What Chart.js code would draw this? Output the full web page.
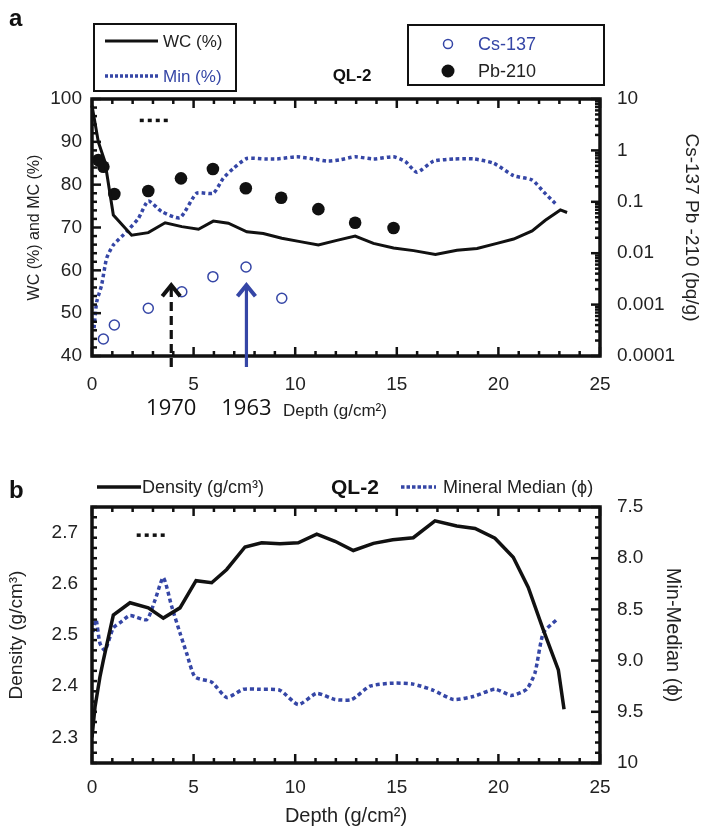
<!DOCTYPE html>
<html><head><meta charset="utf-8">
<script src="https://cdn.jsdelivr.net/npm/chart.js@4.4.1/dist/chart.umd.min.js"></script>
<style>
html,body{margin:0;padding:0;background:#fff;}
#wrap{position:relative;width:703px;height:836px;overflow:hidden;background:#fff;}
#c1{position:absolute;left:0;top:0;display:block;}
#c2{position:absolute;left:0;top:450px;display:block;}
</style></head><body>
<div id="wrap"><canvas id="c1" width="703" height="450"></canvas><canvas id="c2" width="703" height="386"></canvas></div>
<script>
// ---------- Panel a data ----------
const wcDepth  = [0,0.31,0.64,1.05,1.95,2.77,3.6,4.42,5.24,5.97,6.71,7.62,8.43,9.34,10.24,11.14,12.05,12.95,13.85,14.84,15.83,16.9,17.96,18.95,19.93,20.75,21.66,22.31,23.05,23.38];
const wcValues = [98.5,90,85.3,72.9,68.2,68.8,71.1,70.2,69.6,71.5,71,69,68.6,67.5,66.7,65.9,67,68,66.3,65.2,64.6,63.7,64.7,65.1,66.3,67.3,69.2,71.7,74.1,73.5];
const minDepth  = [0.1,0.23,0.47,0.72,1.05,1.7,2.28,2.77,3.43,4.33,5.15,5.97,6.46,6.96,7.62,8.5,9.1,10.08,10.9,11.63,12.2,12.95,13.85,14.84,15.42,15.99,16.81,17.8,18.8,19.77,20.75,21.66,22.23,22.8];
const minValues = [46.5,52.6,56.5,62.8,65.9,69,72.1,76.2,73.7,72.3,78,78,81.5,83.8,86.1,86,86,86.5,86,85.5,85.8,86.5,86,86.5,85.4,82.9,85.5,86,86,85,82.1,81.1,78.3,75.6];
const csDepth  = [0.56,1.1,2.77,4.42,5.95,7.58,9.34];
const csValues = [0.000214,0.0004,0.00085,0.00178,0.0035,0.0054,0.00133];
const pbDepth  = [0.31,0.56,1.1,2.77,4.38,5.95,7.57,9.31,11.14,12.95,14.84];
const pbValues = [0.65,0.48,0.142,0.162,0.286,0.435,0.183,0.12,0.072,0.039,0.031];
const leftTicksA  = [40,50,60,70,80,90,100];
const logTickValues = [0.0001,0.001,0.01,0.1,1,10];
const logTickLabels = ['0.0001','0.001','0.01','0.1','1','10'];
const xTickValues = [0,5,10,15,20,25];
const arrowDepths = [3.9, 7.6];        // 1970, 1963 markers
const arrowLabels = ['1970','1963'];
const arrowTipValue = 57;
const dotsADepth = [2.35,3.85]; const dotsAValue = [95,95];

// ---------- Panel b data ----------
const denDepth  = [0,0.15,0.39,0.56,1.05,1.87,2.77,3.51,4.33,5.12,5.89,6.63,7.53,8.35,9.25,10.15,11.06,11.96,12.86,13.85,14.8,15.81,16.88,17.95,18.85,19.83,20.73,21.47,22.21,22.95,23.23];
const denValues = [2.30,2.36,2.418,2.451,2.539,2.563,2.553,2.533,2.553,2.606,2.602,2.628,2.672,2.68,2.678,2.68,2.697,2.683,2.665,2.679,2.686,2.69,2.723,2.713,2.708,2.689,2.652,2.593,2.51,2.432,2.355];
const phiDepth  = [0.05,0.2,0.39,0.64,1.05,1.38,1.87,2.69,3.1,3.51,3.92,4.33,4.66,5.07,5.89,6.63,7.45,8.27,9.25,10.15,11.06,11.96,12.78,13.68,14.83,15.81,16.8,17.78,18.77,19.83,20.65,21.39,21.8,22.21,22.87];
const phiValues = [8.72,8.6,8.83,8.9,8.68,8.63,8.56,8.6,8.41,8.19,8.47,8.73,8.93,9.16,9.21,9.36,9.28,9.28,9.29,9.43,9.32,9.38,9.38,9.25,9.22,9.23,9.29,9.38,9.35,9.28,9.34,9.28,9.12,8.73,8.6];
const leftTicksB  = [2.3,2.4,2.5,2.6,2.7];
const leftLabelsB = ['2.3','2.4','2.5','2.6','2.7'];
const rightTicksB = [7.5,8.0,8.5,9.0,9.5,10];
const rightLabelsB = ['7.5','8.0','8.5','9.0','9.5','10'];
const dotsBDepth = [2.2,3.75]; const dotsBValue = [2.695,2.695];

const BLUE = '#3546a6';
const FONT = "'Liberation Sans', Arial, Helvetica, sans-serif";
Chart.defaults.font.family = FONT;
Chart.defaults.color = '#222';

const pts = (xs, ys) => xs.map((x, i) => ({x, y: ys[i]}));

function line(ctx, x1, y1, x2, y2) { ctx.beginPath(); ctx.moveTo(x1, y1); ctx.lineTo(x2, y2); ctx.stroke(); }

function drawFrameTicks(chart, leftMinor, leftMajorTest, rightMinorVals, rightMajorTest, rightScaleId) {
  const ctx = chart.ctx; const a = chart.chartArea;
  const xs = chart.scales.x, yl = chart.scales.y, yr = chart.scales[rightScaleId];
  ctx.save();
  ctx.strokeStyle = '#111'; ctx.lineWidth = 2.5; ctx.setLineDash([]);
  for (let v = 0; v <= 25; v++) {
    const px = xs.getPixelForValue(v); const len = v % 5 === 0 ? 9 : 5;
    line(ctx, px, a.bottom, px, a.bottom - len);
    line(ctx, px, a.top, px, a.top + len);
  }
  leftMinor.forEach(v => {
    const py = yl.getPixelForValue(v); const len = leftMajorTest(v) ? 9 : 5;
    line(ctx, a.left, py, a.left + len, py);
  });
  rightMinorVals.forEach(v => {
    const py = yr.getPixelForValue(v); const len = rightMajorTest(v) ? 9 : 5;
    line(ctx, a.right, py, a.right - len, py);
  });
  ctx.lineWidth = 3.5;
  ctx.strokeRect(a.left, a.top, a.right - a.left, a.bottom - a.top);
  ctx.restore();
}

function setTicks(values) { return (scale) => { scale.ticks = values.map(v => ({value: v})); }; }
const noGrid = { display: false, drawTicks: false };

// ---------------- Chart a ----------------
const leftMinorA = []; for (let v = 40; v <= 100; v += 2) leftMinorA.push(v);
const logMinor = []; for (let e = -4; e <= 0; e++) for (let k = 1; k <= 9; k++) logMinor.push(k * Math.pow(10, e)); logMinor.push(10);

const overlayA = {
  id: 'overlayA',
  afterDraw(chart) {
    drawFrameTicks(chart, leftMinorA, v => v % 10 === 0, logMinor,
      v => Math.abs(Math.log10(v) - Math.round(Math.log10(v))) < 1e-6, 'y2');
    const ctx = chart.ctx; const a = chart.chartArea;
    const xs = chart.scales.x, ys = chart.scales.y;
    ctx.save();
    // legend box 1
    ctx.strokeStyle = '#111'; ctx.lineWidth = 2;
    ctx.strokeRect(94, 24, 142, 67);
    ctx.lineWidth = 3; line(ctx, 105, 41, 158, 41);
    ctx.strokeStyle = BLUE; ctx.lineWidth = 3.5; ctx.setLineDash([3, 2]); line(ctx, 105, 76, 158, 76); ctx.setLineDash([]);
    ctx.font = '17px ' + FONT; ctx.textBaseline = 'middle'; ctx.textAlign = 'left';
    ctx.fillStyle = '#222'; ctx.fillText('WC (%)', 163, 42);
    ctx.fillStyle = BLUE; ctx.fillText('Min (%)', 163, 77);
    // legend box 2
    ctx.strokeStyle = '#111'; ctx.lineWidth = 2;
    ctx.strokeRect(408, 25, 196, 60);
    ctx.strokeStyle = BLUE; ctx.lineWidth = 1.5; ctx.fillStyle = '#fff';
    ctx.beginPath(); ctx.arc(448, 44, 4.5, 0, Math.PI * 2); ctx.fill(); ctx.stroke();
    ctx.fillStyle = '#111'; ctx.beginPath(); ctx.arc(448, 71, 6.5, 0, Math.PI * 2); ctx.fill();
    ctx.font = '18px ' + FONT;
    ctx.fillStyle = BLUE; ctx.fillText('Cs-137', 478, 45);
    ctx.fillStyle = '#222'; ctx.fillText('Pb-210', 478, 72);
    // title + panel letter
    ctx.font = 'bold 17px ' + FONT; ctx.textAlign = 'center'; ctx.fillStyle = '#111';
    ctx.fillText('QL-2', 352, 76);
    ctx.font = 'bold 24px ' + FONT; ctx.textAlign = 'left';
    ctx.fillText('a', 9, 19);
    // arrows
    const tip = ys.getPixelForValue(arrowTipValue);
    arrowDepths.forEach((d, i) => {
      const px = xs.getPixelForValue(d);
      const col = i === 0 ? '#111' : BLUE;
      ctx.strokeStyle = col; ctx.lineWidth = 3.2;
      ctx.setLineDash(i === 0 ? [9, 5] : []);
      line(ctx, px, a.bottom + 11, px, tip + 4);
      ctx.setLineDash([]); ctx.lineWidth = 4; ctx.lineJoin = 'miter';
      ctx.beginPath(); ctx.moveTo(px - 9, tip + 13); ctx.lineTo(px, tip + 2); ctx.lineTo(px + 9, tip + 13); ctx.stroke();
      ctx.fillStyle = '#111'; ctx.font = "22px 'Open Sans', 'DejaVu Sans', sans-serif"; ctx.textAlign = 'center';
      ctx.fillText(arrowLabels[i], px, 409);
    });
    ctx.font = '17px ' + FONT; ctx.textAlign = 'left'; ctx.fillStyle = '#222';
    ctx.fillText('Depth (g/cm²)', 283, 411);
    ctx.restore();
  }
};

new Chart(document.getElementById('c1'), {
  type: 'line',
  data: {
    datasets: [
      { label: 'WC (%)', data: pts(wcDepth, wcValues), yAxisID: 'y', borderColor: '#111', borderWidth: 3, pointRadius: 0, tension: 0, fill: false },
      { label: 'Min (%)', data: pts(minDepth, minValues), yAxisID: 'y', borderColor: BLUE, borderWidth: 3.5, borderDash: [3.5, 3], pointRadius: 0, tension: 0.2, fill: false },
      { label: 'Cs-137', data: pts(csDepth, csValues), yAxisID: 'y2', showLine: false, pointRadius: 5, borderColor: BLUE, backgroundColor: '#fff', pointBorderWidth: 1.5 },
      { label: 'Pb-210', data: pts(pbDepth, pbValues), yAxisID: 'y2', showLine: false, pointRadius: 6.3, borderColor: '#111', backgroundColor: '#111', pointBorderWidth: 0 },
      { label: 'dots', data: pts(dotsADepth, dotsAValue), yAxisID: 'y', borderColor: '#111', borderWidth: 3.5, borderDash: [4, 4], pointRadius: 0 }
    ]
  },
  options: {
    responsive: false, animation: false, clip: false,
    layout: { padding: { top: 99, left: 0, right: 0, bottom: 0 } },
    plugins: { legend: { display: false }, tooltip: { enabled: false }, title: { display: false } },
    scales: {
      x: { type: 'linear', min: 0, max: 25, afterBuildTicks: setTicks(xTickValues), afterFit: s => { s.height = 94; },
           grid: noGrid, border: { display: false },
           ticks: { font: { size: 19 }, padding: 17, color: '#222', maxRotation: 0 } },
      y: { type: 'linear', position: 'left', min: 40, max: 100, afterBuildTicks: setTicks(leftTicksA), afterFit: s => { s.width = 92; },
           grid: noGrid, border: { display: false },
           ticks: { font: { size: 19 }, padding: 10, color: '#222' },
           title: { display: true, text: 'WC (%) and MC (%)', font: { size: 16 }, padding: { top: 25 }, color: '#222' } },
      y2: { type: 'logarithmic', position: 'right', min: 0.0001, max: 10, afterBuildTicks: setTicks(logTickValues), afterFit: s => { s.width = 103; },
           grid: noGrid, border: { display: false },
           ticks: { font: { size: 19 }, padding: 17, color: '#222', callback: v => logTickLabels[logTickValues.indexOf(v)] },
           title: { display: true, text: 'Cs-137 Pb -210 (bq/g)', font: { size: 19 }, padding: { top: 0 }, color: '#222' } }
    }
  },
  plugins: [overlayA]
});

// ---------------- Chart b ----------------
const leftMinorB = []; for (let i = 0; i <= 25; i++) leftMinorB.push(+(2.25 + i * 0.02).toFixed(2));
const rightMinorB = []; for (let i = 0; i <= 25; i++) rightMinorB.push(+(7.5 + i * 0.1).toFixed(1));

const overlayB = {
  id: 'overlayB',
  afterDraw(chart) {
    drawFrameTicks(chart, leftMinorB.filter(v => v >= 2.25 && v <= 2.75),
      v => Math.abs(v * 10 - Math.round(v * 10)) < 1e-6, rightMinorB,
      v => Math.abs(v * 2 - Math.round(v * 2)) < 1e-6, 'y2');
    const ctx = chart.ctx;
    ctx.save();
    ctx.strokeStyle = '#111'; ctx.lineWidth = 3.5; line(ctx, 97, 37, 141, 37);
    ctx.strokeStyle = BLUE; ctx.setLineDash([3.5, 2]); line(ctx, 401, 37, 436, 37); ctx.setLineDash([]);
    ctx.textBaseline = 'middle'; ctx.textAlign = 'left'; ctx.fillStyle = '#222';
    ctx.font = '18px ' + FONT;
    ctx.fillText('Density (g/cm³)', 142, 38);
    ctx.fillText('Mineral Median (ϕ)', 443, 38);
    ctx.font = 'bold 21px ' + FONT; ctx.fillStyle = '#111';
    ctx.fillText('QL-2', 331, 38);
    ctx.font = 'bold 24px ' + FONT;
    ctx.fillText('b', 9, 41);
    ctx.restore();
  }
};

new Chart(document.getElementById('c2'), {
  type: 'line',
  data: {
    datasets: [
      { label: 'Density (g/cm³)', data: pts(denDepth, denValues), yAxisID: 'y', borderColor: '#111', borderWidth: 3.5, pointRadius: 0, tension: 0 },
      { label: 'Mineral Median (ϕ)', data: pts(phiDepth, phiValues), yAxisID: 'y2', borderColor: BLUE, borderWidth: 3.5, borderDash: [4, 3], pointRadius: 0, tension: 0.2 },
      { label: 'dots', data: pts(dotsBDepth, dotsBValue), yAxisID: 'y', borderColor: '#111', borderWidth: 3.5, borderDash: [4, 4], pointRadius: 0 }
    ]
  },
  options: {
    responsive: false, animation: false,
    layout: { padding: { top: 57, left: 0, right: 0, bottom: 0 } },
    plugins: { legend: { display: false }, tooltip: { enabled: false }, title: { display: false } },
    scales: {
      x: { type: 'linear', min: 0, max: 25, afterBuildTicks: setTicks(xTickValues), afterFit: s => { s.height = 73; },
           grid: noGrid, border: { display: false },
           ticks: { font: { size: 19 }, padding: 13, color: '#222', maxRotation: 0 },
           title: { display: true, text: 'Depth (g/cm²)', font: { size: 20 }, padding: { bottom: 8 }, color: '#222' } },
      y: { type: 'linear', position: 'left', min: 2.25, max: 2.75, afterBuildTicks: setTicks(leftTicksB), afterFit: s => { s.width = 92; },
           grid: noGrid, border: { display: false },
           ticks: { font: { size: 19 }, padding: 14, color: '#222', callback: v => leftLabelsB[leftTicksB.indexOf(v)] },
           title: { display: true, text: 'Density (g/cm³)', font: { size: 19 }, padding: { top: 5 }, color: '#222' } },
      y2: { type: 'linear', position: 'right', min: 7.5, max: 10, reverse: true, afterBuildTicks: setTicks(rightTicksB), afterFit: s => { s.width = 103; },
           grid: noGrid, border: { display: false },
           ticks: { font: { size: 19 }, padding: 17, color: '#222', callback: v => rightLabelsB[rightTicksB.indexOf(v)] },
           title: { display: true, text: 'Min-Median (ϕ)', font: { size: 20 }, padding: { top: 18 }, color: '#222' } }
    }
  },
  plugins: [overlayB]
});
</script>
</body></html>
